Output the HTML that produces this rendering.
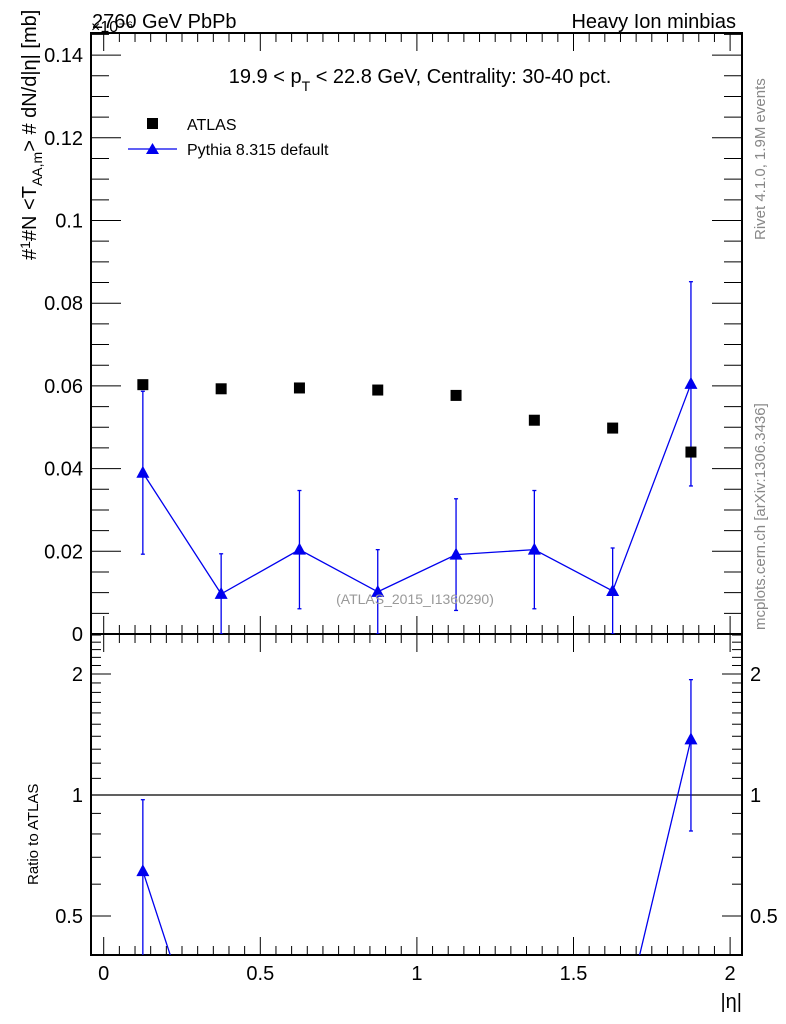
<!DOCTYPE html>
<html><head><meta charset="utf-8"><style>
html,body{margin:0;background:#fff;overflow:hidden;}
svg{display:block;}
svg text{font-family:"Liberation Sans",sans-serif;}
</style></head><body>
<svg id="c" width="786" height="1024" xmlns="http://www.w3.org/2000/svg">
<g id="axes"></g>
<g id="marks"></g>
<text x="92" y="28" font-size="20">2760 GeV PbPb</text>
<text x="91" y="32" font-size="16">×10⁻⁶</text>
<text x="736" y="28" font-size="20" text-anchor="end">Heavy Ion minbias</text>
<text x="420" y="83" font-size="20" text-anchor="middle">19.9 &lt; p<tspan font-size="14" dy="8">T</tspan><tspan dy="-8"> &lt; 22.8 GeV, Centrality: 30-40 pct.</tspan></text>
<rect x="147" y="118" width="11" height="11" fill="#000"/>
<text x="187" y="130" font-size="16">ATLAS</text>
<line x1="128" y1="149" x2="177" y2="149" stroke="#0000ee" stroke-width="1.3"/>
<polygon points="152.5,143 146,154 159,154" fill="#0000ee"/>
<text x="187" y="155" font-size="16">Pythia 8.315 default</text>
<text x="415" y="604" font-size="14" fill="#999" text-anchor="middle">(ATLAS_2015_I1360290)</text>
<text transform="translate(765,240) rotate(-90)" font-size="15" fill="#888">Rivet 4.1.0,  1.9M events</text>
<text transform="translate(765,630) rotate(-90)" font-size="15" fill="#888">mcplots.cern.ch [arXiv:1306.3436]</text>
<text transform="translate(36,260) rotate(-90)" font-size="20">#<tspan font-size="14" dy="-6">1</tspan><tspan dy="6">#N</tspan> <tspan>&lt;T</tspan><tspan font-size="14" dy="6">AA,m</tspan><tspan dy="-6">&gt; # dN/d|η| [mb]</tspan></text>
<text transform="translate(38,885) rotate(-90)" font-size="15">Ratio to ATLAS</text>
<text x="742" y="1008" font-size="20" text-anchor="end">|η|</text>
</svg>
<script>
const xCenters=[0.125,0.375,0.625,0.875,1.125,1.375,1.625,1.875];
const atlasVals=[0.0603,0.0593,0.0595,0.0590,0.0577,0.0517,0.0498,0.0440];
const pythiaVals=[0.0390,0.0097,0.0204,0.0102,0.0192,0.0204,0.0104,0.0605];
const pythiaErr=[0.0197,0.0097,0.0143,0.0102,0.0135,0.0143,0.0104,0.0247];
const xTicks=[0,0.5,1,1.5,2];
const yTicks=[0,0.02,0.04,0.06,0.08,0.1,0.12,0.14];
const yTickLabels=["0","0.02","0.04","0.06","0.08","0.1","0.12","0.14"];
const rTicks=[0.5,1,2];
const NS="http://www.w3.org/2000/svg";
const L=91,R=742,T1=33,B1=634,B2=955;
const X=v=>103.7+v*313.2;
const Y=v=>634-v*4135;
const RY=v=>795-Math.log2(v)*121;
const RMIN=0.4;
const ax=document.getElementById('axes'),mk=document.getElementById('marks');
function el(p,t,a){const e=document.createElementNS(NS,t);for(const k in a)e.setAttribute(k,a[k]);p.appendChild(e);return e;}
function ln(p,x1,y1,x2,y2,c,w){return el(p,'line',{x1,y1,x2,y2,stroke:c||'#000','stroke-width':w||1});}
let f=el(ax,'rect',{x:L,y:T1,width:R-L,height:B1-T1,fill:'none',stroke:'#000','stroke-width':2});


f=el(ax,'rect',{x:L,y:B1,width:R-L,height:B2-B1,fill:'none',stroke:'#000','stroke-width':2});


for(let i=0;i<=40;i++){const v=i*0.05,x=X(v),h=i%10==0?18:9;
 [[B1,-1],[T1,1],[B2,-1],[B1,1]].forEach(([y,d])=>ln(ax,x,y,x,y+d*h));}
xTicks.forEach(v=>{const t=el(ax,'text',{x:X(v),y:980,'font-size':20,'text-anchor':'middle'});t.textContent=String(v);
 
 });
for(let i=0;i<=29;i++){const v=i*0.005,y=Y(v);if(y<T1)continue;const big=i%4==0,h=big?30:18;
 ln(ax,L,y,L+h,y);ln(ax,R,y,R-h,y);}
yTicks.forEach((v,i)=>{const t=el(ax,'text',{x:83,y:Y(v)+7,'font-size':20,'text-anchor':'end'});t.textContent=yTickLabels[i];
 
 });
const rMinor=[0.6,0.7,0.8,0.9,1.1,1.2,1.3,1.4,1.5,1.6,1.7,1.8,1.9,2.1,2.2,2.3,2.4,2.5];
rMinor.forEach(v=>{const y=RY(v);if(y<B1||y>B2)return;ln(ax,L,y,L+10,y);ln(ax,R,y,R-10,y);});
rTicks.forEach(v=>{const y=RY(v);ln(ax,L,y,L+20,y);ln(ax,R,y,R-20,y);
 let t=el(ax,'text',{x:83,y:y+7,'font-size':20,'text-anchor':'end'});t.textContent=String(v);
 
 
 t=el(ax,'text',{x:750,y:y+7,'font-size':20});t.textContent=String(v);
 
 });
const ref=ln(ax,L,RY(1),R,RY(1),'#000',1.2);


const defs=el(mk,'defs',{});
el(el(defs,'clipPath',{id:'c1'}),'rect',{x:L,y:T1,width:R-L,height:B1-T1});
el(el(defs,'clipPath',{id:'c2'}),'rect',{x:L,y:B1,width:R-L,height:B2-B1});
const g1=el(mk,'g',{'clip-path':'url(#c1)'}),g2=el(mk,'g',{'clip-path':'url(#c2)'});
const B='#0000ee';
function tri(g,x,y){return el(g,'polygon',{points:`${x},${y-7} ${x-6.5},${y+5} ${x+6.5},${y+5}`,fill:B});}
const pl=el(g1,'polyline',{points:xCenters.map((x,i)=>X(x)+','+Y(pythiaVals[i])).join(' '),fill:'none',stroke:B,'stroke-width':1.3});


xCenters.forEach((xv,i)=>{const x=X(xv);
 const e=ln(g1,x,Y(pythiaVals[i]-pythiaErr[i]),x,Y(pythiaVals[i]+pythiaErr[i]),B,1.3);
 
 
 ln(g1,x-2,Y(pythiaVals[i]+pythiaErr[i]),x+2,Y(pythiaVals[i]+pythiaErr[i]),B,1.3);
 ln(g1,x-2,Y(pythiaVals[i]-pythiaErr[i]),x+2,Y(pythiaVals[i]-pythiaErr[i]),B,1.3);
 const p=tri(g1,x,Y(pythiaVals[i]));
 
 
 const r=el(g1,'rect',{x:x-5.5,y:Y(atlasVals[i])-5.5,width:11,height:11,fill:'#000'});
 
 });
const rv=pythiaVals.map((v,i)=>v/atlasVals[i]),re=pythiaErr.map((v,i)=>v/atlasVals[i]);
const rl=el(g2,'polyline',{points:xCenters.map((x,i)=>X(x)+','+RY(Math.max(rv[i],0.01))).join(' '),fill:'none',stroke:B,'stroke-width':1.3});


xCenters.forEach((xv,i)=>{if(rv[i]<RMIN)return;const x=X(xv),lo=Math.max(rv[i]-re[i],0.01),hi=rv[i]+re[i];
 const e=ln(g2,x,RY(lo),x,RY(hi),B,1.3);
 
 
 ln(g2,x-2,RY(hi),x+2,RY(hi),B,1.3);
 ln(g2,x-2,RY(lo),x+2,RY(lo),B,1.3);
 const p=tri(g2,x,RY(rv[i]));
 
 });
</script>
</body></html>
